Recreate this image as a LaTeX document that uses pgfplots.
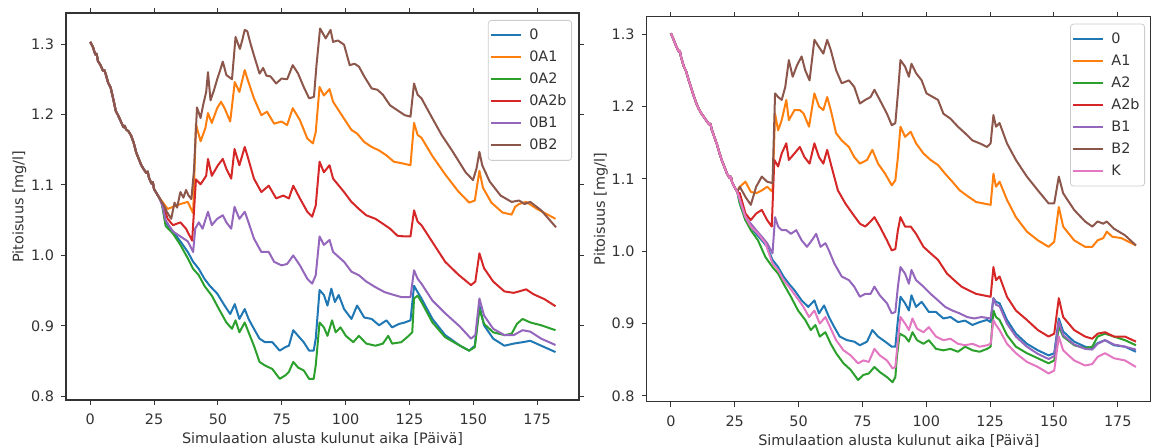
\documentclass[border=0pt]{standalone}
\usepackage{pgfplots}
\pgfplotsset{compat=1.18}
\usepackage{fontspec}
\setmainfont{DejaVu Sans}
\definecolor{c0}{HTML}{1F77B4}
\definecolor{c1}{HTML}{FF7F0E}
\definecolor{c2}{HTML}{2CA02C}
\definecolor{c3}{HTML}{D62728}
\definecolor{c4}{HTML}{9467BD}
\definecolor{c5}{HTML}{8C564B}
\definecolor{c6}{HTML}{E377C2}
\pgfplotsset{
  myax/.style={
    scale only axis, width=256.5pt,
    xmin=-9.5, xmax=191.4,
    xtick={0,25,50,75,100,125,150,175},
    ytick={0.8,0.9,1.0,1.1,1.2,1.3},
    tick align=outside, major tick length=2.5pt,
    tick style={line width=0.5pt, color=black!80},
    axis line style={line width=0.6pt, black!80},
    ticklabel style={font=\fontsize{7.2}{8.6}\selectfont, text=black!80},
    xticklabel style={yshift=-1pt},
    label style={font=\fontsize{7.2}{8.6}\selectfont, text=black!80},
    /pgf/number format/assume math mode=true,
    yticklabel style={/pgf/number format/.cd, fixed, fixed zerofill, precision=1},
    xlabel={Simulaation alusta kulunut aika [Päivä]},
    ylabel={Pitoisuus [mg/l]},
    xlabel style={at={(axis description cs:0.5,-0.101)}, anchor=center},
    ylabel style={at={(axis description cs:-0.0906,0.5)}, anchor=center},
    every axis plot/.append style={line width=1pt, no markers, line join=round},
    legend cell align=left,
    legend image code/.code={\draw[mark repeat=2,mark phase=2,#1] plot coordinates {(0pt,0pt) (7.5pt,0pt) (15pt,0pt)};},
    legend style={at={(1,1)}, anchor=north east, xshift=-3.5pt, yshift=-3.5pt,
      draw=black!20, rounded corners=1.5pt, fill=white, fill opacity=0.8, text opacity=1,
      font=\fontsize{7.2}{8.6}\selectfont, text=black!80, inner xsep=1pt, inner ysep=2pt,
      row sep=0pt, nodes={inner xsep=1.5pt, inner ysep=2pt, text height=5.5pt, text depth=1.5pt},
      /tikz/every odd column/.append style={column sep=2pt}},
  }
}
\begin{document}
\begin{tikzpicture}[trim left=0pt, trim right=575.5pt]
\path[use as bounding box] (0,0) rectangle (575.5pt,224pt);
% ---------------- left panel ----------------
\begin{axis}[myax, at={(33pt,24pt)}, anchor=south west, height=193.5pt, ymin=0.795, ymax=1.344]
\addplot[c0] coordinates {(0,1.303) (1,1.296) (2,1.285) (2.5,1.286) (3,1.276) (4,1.270) (5,1.262) (5.5,1.263) (6,1.258) (7,1.245) (8,1.238) (9,1.222) (10,1.205) (11,1.198) (12,1.190) (13,1.182) (13.5,1.184) (14,1.179) (15,1.176) (16,1.170) (17,1.160) (18,1.146) (19,1.137) (20,1.128) (21,1.122) (22,1.117) (22.5,1.119) (23,1.110) (24,1.102) (24.5,1.104) (25,1.094) (26,1.088) (27,1.082)
(28,1.076) (29.5,1.047) (31,1.040) (32.4,1.034) (35.3,1.02) (38.2,1.005) (40.3,0.991) (42.5,0.981) (44.7,0.967) (46.8,0.957) (49.7,0.946) (52.6,0.929) (54.8,0.917) (56.6,0.931) (58.4,0.91) (60.5,0.924) (62,0.91) (64.1,0.896) (66.3,0.882) (68.4,0.877) (71.3,0.877) (74.2,0.865) (76.4,0.87) (77.8,0.872) (79.5,0.894) (81.4,0.886) (83.6,0.877) (85.7,0.865) (87.5,0.865) (88.3,0.882) (89.8,0.951) (91.5,0.944) (92.9,0.929) (94.4,0.953) (95.8,0.934) (97.3,0.944) (99.4,0.924) (102.3,0.91) (104.5,0.929) (107.3,0.912) (110.2,0.91) (113.1,0.901) (116,0.908) (118.2,0.898) (121,0.903) (123.2,0.905) (125.4,0.908) (126.8,0.957) (128.2,0.948) (129.7,0.939) (134,0.91) (139,0.887) (144.8,0.872) (148.4,0.865) (150.6,0.872) (152.4,0.929) (154.2,0.901) (157.8,0.882) (162.2,0.872) (165.8,0.875) (169.3,0.877) (172.3,0.879) (176.6,0.872) (182.2,0.863)};
\addlegendentry{0}
\addplot[c1] coordinates {(0,1.303) (1,1.296) (2,1.285) (2.5,1.286) (3,1.276) (4,1.270) (5,1.262) (5.5,1.263) (6,1.258) (7,1.245) (8,1.238) (9,1.222) (10,1.205) (11,1.198) (12,1.190) (13,1.182) (13.5,1.184) (14,1.179) (15,1.176) (16,1.170) (17,1.160) (18,1.146) (19,1.137) (20,1.128) (21,1.122) (22,1.117) (22.5,1.119) (23,1.110) (24,1.102) (24.5,1.104) (25,1.094) (26,1.088) (27,1.082)
(28.5,1.075) (30.3,1.066) (32.4,1.069) (35.3,1.073) (38.2,1.076) (40.3,1.06) (41.4,1.186) (43.2,1.162) (45.1,1.181) (46.1,1.202) (47.6,1.188) (49.7,1.209) (51.2,1.218) (52.6,1.209) (54.8,1.19) (56.6,1.246) (58.4,1.232) (60.5,1.263) (61.5,1.251) (64.1,1.223) (67,1.199) (69.2,1.204) (72,1.187) (74.9,1.19) (77.1,1.185) (79.3,1.209) (82.1,1.192) (85,1.166) (87.2,1.159) (88.3,1.175) (89.8,1.239) (91.5,1.227) (93.7,1.236) (95.1,1.218) (99.4,1.194) (102.3,1.178) (104.5,1.173) (107.3,1.161) (110.2,1.154) (113.1,1.149) (116,1.142) (118.9,1.133) (121.8,1.131) (125.4,1.128) (126.8,1.188) (128.2,1.171) (129.7,1.167) (134,1.141) (139,1.115) (144.1,1.091) (148.4,1.075) (150.6,1.078) (152.4,1.12) (153.8,1.096) (157.1,1.075) (161.4,1.061) (165,1.058) (166.4,1.069) (167.9,1.073) (170.7,1.076) (175,1.066) (182.2,1.052)};
\addlegendentry{0A1}
\addplot[c2] coordinates {(0,1.303) (1,1.296) (2,1.285) (2.5,1.286) (3,1.276) (4,1.270) (5,1.262) (5.5,1.263) (6,1.258) (7,1.245) (8,1.238) (9,1.222) (10,1.205) (11,1.198) (12,1.190) (13,1.182) (13.5,1.184) (14,1.179) (15,1.176) (16,1.170) (17,1.160) (18,1.146) (19,1.137) (20,1.128) (21,1.122) (22,1.117) (22.5,1.119) (23,1.110) (24,1.102) (24.5,1.104) (25,1.094) (26,1.088) (27,1.082)
(28,1.074) (29.5,1.042) (32.4,1.031) (35.3,1.015) (38.2,0.996) (40.3,0.981) (42.5,0.972) (44.7,0.957) (47.6,0.943) (50.4,0.924) (53.3,0.905) (55.5,0.896) (56.9,0.908) (58.4,0.891) (60.5,0.905) (62,0.891) (64.1,0.872) (66.3,0.849) (68.4,0.844) (71.3,0.839) (74.2,0.825) (76.4,0.83) (77.8,0.835) (79.5,0.849) (81.4,0.841) (83.6,0.837) (85.7,0.825) (87.5,0.825) (88.3,0.844) (89.8,0.905) (91.5,0.898) (92.9,0.886) (94.7,0.908) (96.1,0.891) (98,0.898) (100.1,0.886) (103,0.877) (105.2,0.886) (108.1,0.875) (111.7,0.872) (114.6,0.875) (116.7,0.886) (118.2,0.875) (121.8,0.877) (124.7,0.886) (126.1,0.891) (126.8,0.939) (128.2,0.943) (129.7,0.934) (134,0.905) (139,0.884) (144.8,0.872) (148.4,0.865) (150.6,0.87) (152.4,0.924) (154.2,0.903) (157.8,0.891) (162.2,0.887) (165,0.889) (167.1,0.903) (169.3,0.91) (172.3,0.905) (176.6,0.901) (182.2,0.894)};
\addlegendentry{0A2}
\addplot[c3] coordinates {(0,1.303) (1,1.296) (2,1.285) (2.5,1.286) (3,1.276) (4,1.270) (5,1.262) (5.5,1.263) (6,1.258) (7,1.245) (8,1.238) (9,1.222) (10,1.205) (11,1.198) (12,1.190) (13,1.182) (13.5,1.184) (14,1.179) (15,1.176) (16,1.170) (17,1.160) (18,1.146) (19,1.137) (20,1.128) (21,1.122) (22,1.117) (22.5,1.119) (23,1.110) (24,1.102) (24.5,1.104) (25,1.094) (26,1.088) (27,1.082)
(28.5,1.072) (30.3,1.052) (32.4,1.043) (35.3,1.047) (37.5,1.038) (39.9,1.021) (41.4,1.108) (43.2,1.101) (45.4,1.113) (46.1,1.137) (47.6,1.113) (50,1.128) (51.9,1.137) (53.3,1.123) (55.2,1.109) (56.5,1.151) (58.4,1.128) (60.5,1.154) (61.5,1.142) (64.1,1.109) (67,1.09) (69.9,1.099) (72.8,1.081) (75.6,1.085) (77.8,1.081) (79.5,1.099) (82.1,1.081) (85,1.062) (86.9,1.055) (88.3,1.071) (89.8,1.133) (91.5,1.118) (93.7,1.128) (95.1,1.109) (99.4,1.09) (102.3,1.076) (105.2,1.066) (108.1,1.057) (111.7,1.052) (114.6,1.045) (117.4,1.038) (120.3,1.028) (123.2,1.027) (125.4,1.027) (126.8,1.064) (128.2,1.048) (129.7,1.043) (134,1.019) (139,0.991) (144.1,0.973) (149.1,0.958) (150.8,0.963) (152.4,1.003) (154.2,0.982) (157.8,0.963) (162.2,0.949) (165.8,0.947) (167.9,0.949) (170.7,0.952) (173.6,0.945) (177.9,0.938) (182.2,0.928)};
\addlegendentry{0A2b}
\addplot[c4] coordinates {(0,1.303) (1,1.296) (2,1.285) (2.5,1.286) (3,1.276) (4,1.270) (5,1.262) (5.5,1.263) (6,1.258) (7,1.245) (8,1.238) (9,1.222) (10,1.205) (11,1.198) (12,1.190) (13,1.182) (13.5,1.184) (14,1.179) (15,1.176) (16,1.170) (17,1.160) (18,1.146) (19,1.137) (20,1.128) (21,1.122) (22,1.117) (22.5,1.119) (23,1.110) (24,1.102) (24.5,1.104) (25,1.094) (26,1.088) (27,1.082)
(28.3,1.07) (29.5,1.05) (32.4,1.034) (35.3,1.027) (38.2,1.02) (40.3,1.005) (41.1,1.038) (42.5,1.047) (44,1.038) (46.1,1.062) (47.6,1.043) (49.7,1.052) (51.9,1.057) (53.3,1.047) (55.2,1.038) (56.5,1.069) (58.4,1.052) (60.5,1.062) (61.5,1.052) (64.1,1.024) (67,1.005) (69.9,1.005) (72,0.991) (74.9,0.986) (77.1,0.988) (79.5,1.0) (82.1,0.986) (85,0.967) (86.9,0.96) (88.3,0.972) (89.8,1.027) (91.5,1.015) (93.7,1.022) (95.1,1.005) (99.4,0.991) (102.3,0.977) (105.2,0.972) (108.1,0.963) (111.7,0.955) (115.3,0.948) (118.9,0.944) (121.8,0.941) (125.4,0.941) (126.8,0.979) (128.2,0.967) (129.7,0.96) (134,0.936) (139,0.918) (144.8,0.899) (149.1,0.882) (150.8,0.887) (152.4,0.939) (154.2,0.915) (157.8,0.896) (162.2,0.887) (165.8,0.887) (169.3,0.894) (172.3,0.892) (176.6,0.882) (182.2,0.873)};
\addlegendentry{0B1}
\addplot[c5] coordinates {(0,1.303) (1,1.296) (2,1.285) (2.5,1.286) (3,1.276) (4,1.270) (5,1.262) (5.5,1.263) (6,1.258) (7,1.245) (8,1.238) (9,1.222) (10,1.205) (11,1.198) (12,1.190) (13,1.182) (13.5,1.184) (14,1.179) (15,1.176) (16,1.170) (17,1.160) (18,1.146) (19,1.137) (20,1.128) (21,1.122) (22,1.117) (22.5,1.119) (23,1.110) (24,1.102) (24.5,1.104) (25,1.094) (26,1.088) (27,1.082)
(28.8,1.071) (30,1.062) (31.7,1.052) (33,1.075) (34,1.068) (35.3,1.09) (36.5,1.082) (37.5,1.093) (38.5,1.085) (39.6,1.08) (40.6,1.12) (41.8,1.21) (43.2,1.195) (44.3,1.215) (45.4,1.232) (46.1,1.26) (47.1,1.22) (48.5,1.235) (49.7,1.25) (50.8,1.262) (51.9,1.275) (53.3,1.256) (55.5,1.25) (56.9,1.31) (58.6,1.293) (59.5,1.305) (60.5,1.32) (61.5,1.318) (62.8,1.30) (64.1,1.284) (66.3,1.258) (67.7,1.266) (69,1.255) (70.6,1.254) (72.8,1.244) (74.9,1.251) (77.1,1.25) (79.3,1.27) (81.4,1.258) (83.6,1.239) (85.7,1.223) (87.6,1.225) (88.6,1.27) (90,1.322) (92.2,1.308) (94.1,1.32) (95.1,1.303) (97,1.305) (99.4,1.299) (101.6,1.27) (103.5,1.272) (105.2,1.268) (107.3,1.254) (110.2,1.237) (112.5,1.235) (114.6,1.228) (117.4,1.213) (120.3,1.206) (123.2,1.199) (125.4,1.197) (126.8,1.244) (128.2,1.228) (129.7,1.223) (133.3,1.199) (137.6,1.171) (142,1.147) (147,1.118) (149.9,1.107) (151.3,1.124) (152.4,1.147) (153.5,1.128) (156.4,1.105) (160.7,1.085) (165,1.076) (167.9,1.078) (170.1,1.073) (172.3,1.076) (176.6,1.064) (182.4,1.04)};
\addlegendentry{0B2}
\end{axis}
% ---------------- right panel ----------------
\begin{axis}[myax, at={(323.3pt,23.15pt)}, anchor=south west, width=252.2pt, xmax=188.0, height=192.5pt, ymin=0.792, ymax=1.324, legend style={xshift=0.5pt}]
\addplot[c0] coordinates {(0,1.301) (1,1.293) (2,1.284) (3,1.276) (3.5,1.277) (4,1.268) (5,1.256) (6,1.248) (7,1.236) (8,1.225) (9,1.214) (10,1.204) (11,1.196) (12,1.190) (13,1.185) (14,1.180) (15,1.175) (15.5,1.176) (16,1.168) (17,1.158) (18,1.148) (19,1.136) (20,1.125) (21,1.116) (22,1.107) (23,1.101) (23.5,1.103) (24,1.095) (25,1.088) (26,1.082)
(27,1.066) (29.2,1.043) (31.3,1.034) (33.4,1.024) (35.6,1.015) (37.7,1.006) (39.8,0.988) (42,0.978) (44.1,0.965) (46.2,0.955) (48.4,0.946) (51.2,0.932) (53.8,0.923) (56.2,0.932) (58,0.914) (60,0.925) (61.9,0.909) (64,0.895) (66.1,0.882) (69,0.877) (71.8,0.875) (74,0.87) (76.8,0.875) (78.9,0.891) (81.1,0.882) (83.9,0.875) (86.5,0.868) (87.9,0.868) (88.9,0.905) (89.9,0.937) (91.7,0.928) (93.2,0.918) (94.2,0.939) (96,0.923) (98.2,0.93) (101,0.916) (103.8,0.916) (106.7,0.907) (109.5,0.909) (112.4,0.902) (115.2,0.904) (118.1,0.898) (120.9,0.902) (123.8,0.905) (125.2,0.902) (126.3,0.935) (127.3,0.93) (128.7,0.928) (131.6,0.905) (135.1,0.886) (139.4,0.872) (143.7,0.863) (147.9,0.856) (150.1,0.859) (151.9,0.907) (153.6,0.889) (157.9,0.875) (162.2,0.868) (165,0.866) (167.1,0.873) (170,0.877) (173.5,0.87) (177.8,0.868) (182.1,0.861)};
\addlegendentry{0}
\addplot[c1] coordinates {(0,1.301) (1,1.293) (2,1.284) (3,1.276) (3.5,1.277) (4,1.268) (5,1.256) (6,1.248) (7,1.236) (8,1.225) (9,1.214) (10,1.204) (11,1.196) (12,1.190) (13,1.185) (14,1.180) (15,1.175) (15.5,1.176) (16,1.168) (17,1.158) (18,1.148) (19,1.136) (20,1.125) (21,1.116) (22,1.107) (23,1.101) (23.5,1.103) (24,1.095) (25,1.088) (26,1.082)
(27,1.089) (29.2,1.096) (31.3,1.082) (33.4,1.08) (35.6,1.084) (37.7,1.089) (39.8,1.082) (40.8,1.19) (42,1.167) (43.4,1.181) (45.2,1.209) (46.2,1.181) (48.4,1.195) (50.5,1.195) (52,1.19) (54.1,1.172) (56.2,1.218) (58,1.2) (59.7,1.195) (61.2,1.213) (62.6,1.195) (64.7,1.163) (66.9,1.153) (69.7,1.144) (71.8,1.13) (74,1.121) (76.8,1.126) (78.9,1.14) (81.1,1.121) (83.9,1.107) (86.5,1.091) (87.9,1.098) (88.9,1.13) (89.9,1.172) (91.7,1.158) (93.9,1.165) (96,1.149) (98.9,1.135) (101.7,1.126) (104.6,1.119) (107.4,1.107) (110.2,1.096) (113.1,1.084) (116.6,1.075) (119.5,1.068) (122.3,1.066) (125.2,1.064) (126.3,1.107) (127.3,1.089) (128.7,1.096) (131.6,1.071) (135.1,1.047) (139.4,1.027) (143.7,1.015) (147.9,1.006) (150.1,1.013) (151.9,1.061) (153.6,1.034) (157.9,1.015) (162.2,1.006) (165,1.006) (167.1,1.015) (169.3,1.018) (170.7,1.027) (172.8,1.02) (176.4,1.018) (182.1,1.008)};
\addlegendentry{A1}
\addplot[c2] coordinates {(0,1.301) (1,1.293) (2,1.284) (3,1.276) (3.5,1.277) (4,1.268) (5,1.256) (6,1.248) (7,1.236) (8,1.225) (9,1.214) (10,1.204) (11,1.196) (12,1.190) (13,1.185) (14,1.180) (15,1.175) (15.5,1.176) (16,1.168) (17,1.158) (18,1.148) (19,1.136) (20,1.125) (21,1.116) (22,1.107) (23,1.101) (23.5,1.103) (24,1.095) (25,1.088) (26,1.082)
(27,1.066) (29.2,1.043) (31.3,1.029) (34.1,1.015) (37,0.992) (39.8,0.978) (42,0.969) (44.1,0.955) (47,0.937) (49.8,0.918) (52.6,0.905) (54.8,0.891) (56.6,0.898) (58.3,0.882) (60.5,0.888) (62.6,0.872) (64.7,0.859) (67.6,0.845) (70.4,0.836) (73.3,0.822) (75.4,0.829) (77.5,0.831) (79.7,0.84) (81.8,0.833) (84.6,0.826) (86.8,0.819) (87.9,0.826) (88.5,0.854) (89.6,0.886) (91.7,0.882) (93.2,0.875) (94.6,0.888) (96.4,0.877) (98.9,0.872) (101,0.877) (103.8,0.865) (106.7,0.863) (109.5,0.865) (112.4,0.861) (115.2,0.868) (118.1,0.863) (120.9,0.861) (123.8,0.865) (125.2,0.868) (126.3,0.918) (127.3,0.909) (128.7,0.905) (131.6,0.884) (135.1,0.868) (139.4,0.859) (143.7,0.852) (147.9,0.845) (150.1,0.849) (151.9,0.896) (153.6,0.882) (157.9,0.87) (162.2,0.866) (165,0.868) (167.1,0.882) (170,0.886) (173.5,0.882) (177.8,0.877) (182.1,0.87)};
\addlegendentry{A2}
\addplot[c3] coordinates {(0,1.301) (1,1.293) (2,1.284) (3,1.276) (3.5,1.277) (4,1.268) (5,1.256) (6,1.248) (7,1.236) (8,1.225) (9,1.214) (10,1.204) (11,1.196) (12,1.190) (13,1.185) (14,1.180) (15,1.175) (15.5,1.176) (16,1.168) (17,1.158) (18,1.148) (19,1.136) (20,1.125) (21,1.116) (22,1.107) (23,1.101) (23.5,1.103) (24,1.095) (25,1.088) (26,1.082)
(27,1.08) (29.2,1.052) (31.3,1.043) (33.4,1.052) (35.6,1.057) (37.7,1.043) (39.5,1.034) (40.5,1.126) (42,1.117) (43.4,1.135) (45.2,1.149) (46.2,1.126) (48.4,1.135) (50.5,1.144) (52.3,1.13) (54.3,1.121) (56.2,1.149) (58,1.13) (59.7,1.121) (61.2,1.14) (62.9,1.117) (65.4,1.084) (68.3,1.066) (71.1,1.052) (74,1.038) (76.1,1.034) (78.2,1.041) (79.7,1.047) (81.8,1.034) (84.6,1.015) (86.5,1.001) (87.9,1.003) (88.9,1.029) (89.9,1.047) (91.7,1.034) (93.9,1.034) (96,1.024) (98.9,1.006) (101.7,0.997) (104.6,0.988) (108.1,0.969) (110.9,0.96) (113.8,0.951) (116.6,0.946) (119.5,0.941) (122.3,0.939) (125.2,0.937) (126.3,0.978) (127.3,0.96) (128.7,0.965) (131.6,0.937) (135.1,0.918) (139.4,0.905) (143.7,0.891) (147.9,0.882) (150.1,0.886) (151.9,0.935) (153.6,0.909) (157.9,0.891) (162.2,0.882) (165,0.879) (167.1,0.886) (170,0.888) (173.5,0.882) (177.8,0.882) (182.1,0.875)};
\addlegendentry{A2b}
\addplot[c4] coordinates {(0,1.301) (1,1.293) (2,1.284) (3,1.276) (3.5,1.277) (4,1.268) (5,1.256) (6,1.248) (7,1.236) (8,1.225) (9,1.214) (10,1.204) (11,1.196) (12,1.190) (13,1.185) (14,1.180) (15,1.175) (15.5,1.176) (16,1.168) (17,1.158) (18,1.148) (19,1.136) (20,1.125) (21,1.116) (22,1.107) (23,1.101) (23.5,1.103) (24,1.095) (25,1.088) (26,1.082)
(27,1.071) (29.2,1.047) (31.3,1.038) (33.4,1.029) (35.6,1.02) (37.7,1.011) (39.8,0.997) (40.8,1.047) (42,1.034) (43.4,1.029) (45.2,1.029) (47,1.024) (49.1,1.029) (51.2,1.015) (53.3,1.006) (55.2,1.015) (56.9,1.024) (58.6,1.006) (60.5,1.011) (61.9,1.001) (64,0.983) (66.9,0.965) (69.7,0.96) (71.8,0.951) (74,0.937) (76.1,0.941) (78.2,0.941) (79.7,0.951) (81.8,0.939) (84.6,0.928) (86.5,0.914) (87.9,0.916) (88.9,0.951) (89.9,0.978) (91.7,0.969) (93.2,0.955) (94.2,0.974) (96,0.96) (98.9,0.951) (101.7,0.941) (104.6,0.932) (107.4,0.923) (110.2,0.918) (113.1,0.914) (116,0.909) (118.8,0.907) (121.6,0.909) (125.2,0.907) (126.3,0.935) (127.3,0.926) (128.7,0.924) (131.6,0.9) (135.1,0.882) (139.4,0.868) (143.7,0.858) (147.9,0.851) (150.1,0.855) (151.9,0.903) (153.6,0.884) (157.9,0.871) (162.2,0.865) (165,0.864) (167.1,0.872) (170,0.877) (173.5,0.871) (177.8,0.868) (182.1,0.864)};
\addlegendentry{B1}
\addplot[c5] coordinates {(0,1.301) (1,1.293) (2,1.284) (3,1.276) (3.5,1.277) (4,1.268) (5,1.256) (6,1.248) (7,1.236) (8,1.225) (9,1.214) (10,1.204) (11,1.196) (12,1.190) (13,1.185) (14,1.180) (15,1.175) (15.5,1.176) (16,1.168) (17,1.158) (18,1.148) (19,1.136) (20,1.125) (21,1.116) (22,1.107) (23,1.101) (23.5,1.103) (24,1.095) (25,1.088) (26,1.082)
(27,1.089) (29.2,1.075) (31.3,1.064) (33.4,1.089) (35.6,1.103) (37.7,1.096) (39.8,1.094) (40.8,1.218) (42,1.213) (43.4,1.209) (44.8,1.227) (46.2,1.264) (47.7,1.241) (49.4,1.257) (51.2,1.269) (52.6,1.25) (54.3,1.236) (56.2,1.292) (58,1.282) (59.7,1.273) (61.2,1.292) (62.6,1.278) (64.7,1.25) (66.9,1.232) (69.7,1.236) (71.8,1.227) (74,1.204) (76.1,1.209) (78.2,1.213) (79.7,1.223) (81.8,1.209) (84.6,1.19) (86.5,1.174) (87.9,1.177) (88.9,1.218) (89.9,1.264) (91.7,1.255) (93.2,1.241) (94.2,1.259) (96,1.246) (98.2,1.236) (100.1,1.218) (104.6,1.209) (106.7,1.19) (109.5,1.183) (112.4,1.172) (115.2,1.163) (118.1,1.153) (120.9,1.149) (123.8,1.144) (125.2,1.149) (126.3,1.188) (127.3,1.172) (128.7,1.177) (131.6,1.149) (135.1,1.126) (139.4,1.103) (143.7,1.084) (147.9,1.066) (150.1,1.066) (151.9,1.103) (153.6,1.08) (157.9,1.057) (162.2,1.041) (165,1.034) (167.1,1.041) (169.3,1.038) (170.7,1.041) (173.5,1.031) (177.8,1.022) (182.1,1.008)};
\addlegendentry{B2}
\addplot[c6] coordinates {(0,1.301) (1,1.293) (2,1.284) (3,1.276) (3.5,1.277) (4,1.268) (5,1.256) (6,1.248) (7,1.236) (8,1.225) (9,1.214) (10,1.204) (11,1.196) (12,1.190) (13,1.185) (14,1.180) (15,1.175) (15.5,1.176) (16,1.168) (17,1.158) (18,1.148) (19,1.136) (20,1.125) (21,1.116) (22,1.107) (23,1.101) (23.5,1.103) (24,1.095) (25,1.088) (26,1.082)
(27,1.071) (29.2,1.047) (31.3,1.034) (34.1,1.024) (37,1.011) (39.8,0.983) (42,0.974) (44.1,0.96) (46.2,0.951) (49.1,0.937) (51.9,0.923) (54.1,0.909) (56.2,0.918) (58.3,0.9) (60.5,0.909) (62.6,0.893) (64.7,0.877) (67.6,0.863) (70.4,0.856) (73.3,0.845) (75.4,0.849) (77.5,0.847) (79.7,0.865) (81.8,0.856) (84.6,0.849) (86.8,0.838) (87.9,0.84) (88.9,0.877) (89.9,0.909) (91.7,0.9) (93.2,0.891) (94.6,0.907) (96.4,0.893) (98.9,0.888) (101,0.895) (103.8,0.882) (106.7,0.877) (109.5,0.879) (112.4,0.872) (115.2,0.87) (118.1,0.872) (120.9,0.868) (123.8,0.87) (125.2,0.872) (126.3,0.905) (127.3,0.898) (128.7,0.891) (131.6,0.872) (135.1,0.859) (139.4,0.847) (143.7,0.84) (147.9,0.831) (150.1,0.835) (151.9,0.882) (153.6,0.863) (157.9,0.849) (162.2,0.842) (165,0.844) (167.1,0.854) (170,0.859) (173.5,0.852) (177.8,0.849) (182.1,0.84)};
\addlegendentry{K}
\end{axis}
\end{tikzpicture}
\end{document}
